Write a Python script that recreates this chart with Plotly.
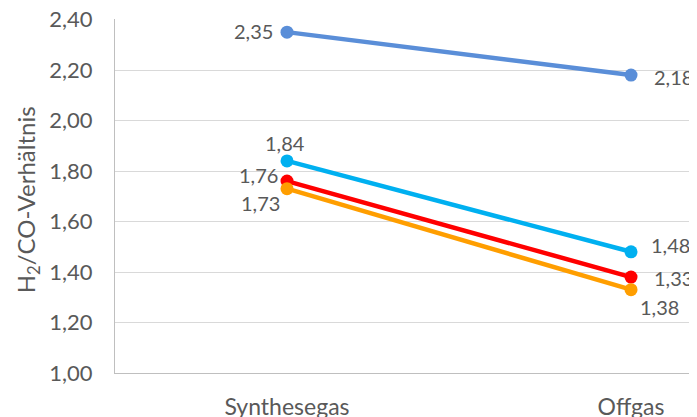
import plotly.graph_objects as go

categories = ["Synthesegas", "Offgas"]
series_blue = [2.35, 2.18]
series_lightblue = [1.84, 1.48]
series_red = [1.76, 1.38]
series_orange = [1.73, 1.33]
y_ticks = [1.0, 1.2, 1.4, 1.6, 1.8, 2.0, 2.2, 2.4]
y_ticklabels = [f"{v:.2f}".replace(".", ",") for v in y_ticks]
y_title = "H<sub>2</sub>/CO-Verhältnis"

colors = ["#5A8ED8", "#00B0F0", "#FF0000", "#FF9E00"]
series = [series_blue, series_lightblue, series_red, series_orange]

FONT = "Lato, 'Open Sans', sans-serif"
GRAY = "#595959"

fig = go.Figure()
for vals, c in zip(series, colors):
    fig.add_trace(go.Scatter(
        x=[0, 1], y=vals, mode="lines+markers",
        line=dict(color=c, width=4.5),
        marker=dict(color=c, size=13),
        showlegend=False, hoverinfo="skip", cliponaxis=False))

def fmt(v):
    return f"{v:.2f}".replace(".", ",")

# label placements: (series index, point index, xanchor, yanchor, xshift, yshift)
placements = [
    (0, 0, "right", "middle", -12, 1),
    (0, 1, "left", "middle", 21, -2),
    (1, 0, "center", "middle", -2, 18),
    (1, 1, "left", "middle", 18, 7),
    (2, 0, "right", "middle", -7, 6),
    (2, 1, "center", "middle", 28, -30),
    (3, 0, "right", "middle", -5, -14),
    (3, 1, "left", "middle", 21, 12),
]
for si, pi, xa, ya, xs, ys in placements:
    v = series[si][pi]
    fig.add_annotation(x=pi, y=v, xref="x", yref="y", text=fmt(v), showarrow=False,
                       xanchor=xa, yanchor=ya, xshift=xs, yshift=ys,
                       font=dict(family=FONT, size=20, color=GRAY))

fig.add_annotation(x=-0.148, y=0.49, xref="paper", yref="paper", text=y_title,
                   textangle=-90, showarrow=False, xanchor="center", yanchor="middle",
                   font=dict(family=FONT, size=24, color=GRAY))

fig.update_layout(
    width=697, height=417,
    margin=dict(l=107, r=0, t=11, b=52, autoexpand=False),
    paper_bgcolor="white", plot_bgcolor="white",
    font=dict(family=FONT, size=20, color=GRAY),
    xaxis=dict(tickvals=[0, 1], ticktext=categories, range=[-0.5, 1.215],
               showgrid=False, zeroline=False, showline=True,
               linecolor="#BFBFBF", linewidth=1, ticks="",
               automargin=False, ticklabelstandoff=13, ticklabeloverflow="allow",
               tickfont=dict(family=FONT, size=23, color=GRAY)),
    yaxis=dict(range=[1.0, 2.402], tickvals=y_ticks, ticktext=y_ticklabels,
               showgrid=True, gridcolor="#D9D9D9", gridwidth=1,
               zeroline=False, showline=True, linecolor="#BFBFBF", linewidth=1,
               ticks="", ticklabelstandoff=17, automargin=False,
               ticklabeloverflow="allow",
               tickfont=dict(family=FONT, size=22, color=GRAY)),
)
fig.write_html("out.html")
